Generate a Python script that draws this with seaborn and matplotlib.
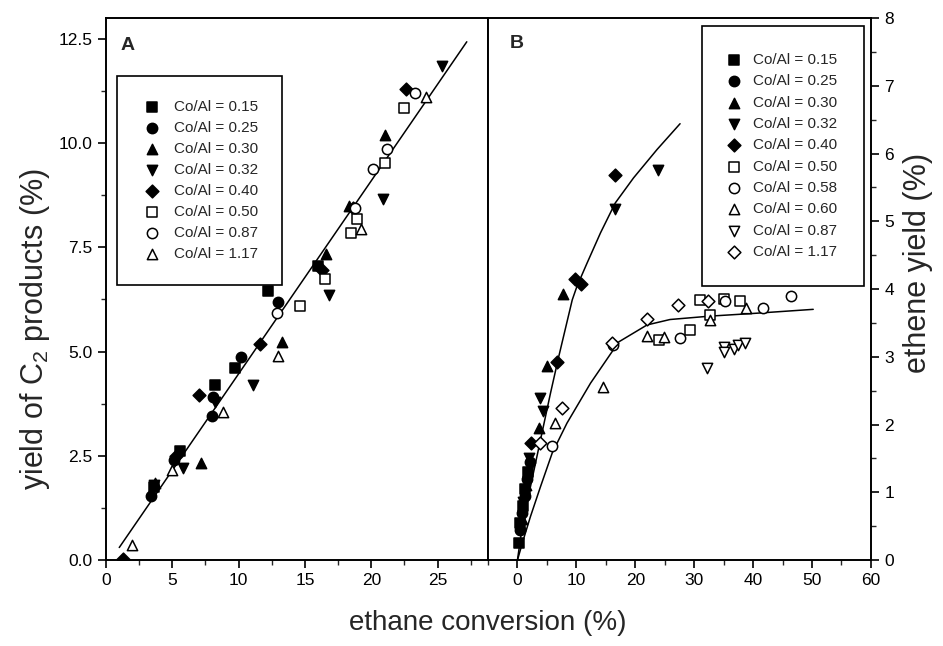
import matplotlib
matplotlib.use('Agg')
from matplotlib import pyplot as plt
from matplotlib.ticker import MultipleLocator, FormatStrFormatter
import pandas as pd
import seaborn as sns

# ---- panel A: yield of C2 products vs ethane conversion ----
a_labels = ['Co/Al = 0.15', 'Co/Al = 0.25', 'Co/Al = 0.30', 'Co/Al = 0.32',
            'Co/Al = 0.40', 'Co/Al = 0.50', 'Co/Al = 0.87', 'Co/Al = 1.17']
a_x = [
    [12.2, 9.7, 8.2, 5.6, 3.6, 16.0],
    [13.0, 10.2, 8.0, 5.1, 3.4, 8.1],
    [21.0, 18.3, 16.6, 13.3, 7.2, 3.7],
    [25.3, 20.9, 16.8, 11.1, 5.8, 3.6, 8.2],
    [22.6, 16.3, 11.6, 7.0, 5.3, 1.3, 18.6],
    [22.5, 21.0, 18.9, 18.5, 16.5, 14.6],
    [23.3, 21.2, 20.1, 18.8, 12.9],
    [24.1, 19.2, 13.0, 8.8, 5.0, 1.95],
]
a_y = [
    [6.45, 4.6, 4.2, 2.62, 1.75, 7.05],
    [6.18, 4.88, 3.46, 2.4, 1.54, 3.9],
    [10.2, 8.48, 7.33, 5.24, 2.33, 1.85],
    [11.86, 8.67, 6.35, 4.2, 2.2, 1.8, 3.8],
    [11.3, 6.95, 5.19, 3.97, 2.5, 0.02, 8.45],
    [10.85, 9.53, 8.17, 7.85, 6.75, 6.1],
    [11.2, 9.85, 9.39, 8.45, 5.93],
    [11.1, 7.93, 4.9, 3.56, 2.16, 0.36],
]
a_marker = ['s', 'o', '^', 'v', 'D', 's', 'o', '^']
a_filled = [True, True, True, True, True, False, False, False]
a_fit_x = [1.0, 27.2]
a_fit_y = [0.30, 12.43]

# ---- panel B: ethene yield vs ethane conversion ----
b_labels = ['Co/Al = 0.15', 'Co/Al = 0.25', 'Co/Al = 0.30', 'Co/Al = 0.32',
            'Co/Al = 0.40', 'Co/Al = 0.50', 'Co/Al = 0.58', 'Co/Al = 0.60',
            'Co/Al = 0.87', 'Co/Al = 1.17']
b_x = [
    [0.2, 0.5, 0.9, 1.3, 1.8],
    [0.4, 0.8, 1.2, 1.6, 2.2],
    [0.7, 1.5, 3.6, 5.0, 7.8],
    [1.0, 2.0, 3.9, 4.3, 16.6, 23.9],
    [2.3, 6.7, 9.8, 10.7, 16.6],
    [24.1, 29.3, 30.9, 32.7, 35.1, 37.7],
    [5.9, 16.2, 27.6, 35.3, 41.7, 46.4],
    [6.4, 14.6, 22.0, 24.9, 32.7, 38.8],
    [32.2, 35.1, 35.1, 36.8, 37.5, 38.6],
    [3.8, 7.6, 16.0, 22.0, 27.3, 32.4],
]
b_y = [
    [0.25, 0.55, 0.8, 1.05, 1.3],
    [0.45, 0.7, 0.95, 1.2, 1.45],
    [0.6, 1.1, 1.95, 2.86, 3.92],
    [0.85, 1.5, 2.39, 2.2, 5.18, 5.76],
    [1.73, 2.93, 4.15, 4.08, 5.68],
    [3.25, 3.4, 3.84, 3.62, 3.86, 3.82],
    [1.68, 3.18, 3.27, 3.83, 3.72, 3.89],
    [2.02, 2.56, 3.3, 3.29, 3.55, 3.72],
    [2.83, 3.15, 3.07, 3.11, 3.18, 3.21],
    [1.73, 2.24, 3.2, 3.56, 3.77, 3.83],
]
b_marker = ['s', 'o', '^', 'v', 'D', 's', 'o', '^', 'v', 'D']
b_filled = [True] * 5 + [False] * 5

# fitted curves
fit1_x = [0.0, 0.8, 2.2, 3.9, 5.6, 7.0, 9.3, 10.1, 11.8, 14.1, 16.6, 19.7, 23.7, 27.6]
fit1_y = [0.0, 0.49, 1.08, 1.77, 2.46, 3.0, 3.84, 4.04, 4.38, 4.83, 5.27, 5.64, 6.06, 6.44]
fit2_x = [0.0, 1.0, 2.2, 3.9, 5.9, 8.4, 12.4, 17.2, 22.0, 25.9, 32.7, 40.1, 50.2]
fit2_y = [0.0, 0.3, 0.64, 1.08, 1.58, 2.02, 2.61, 3.22, 3.47, 3.55, 3.6, 3.64, 3.7]

sns.set_style('ticks')
plt.rcParams['font.family'] = ['Liberation Sans', 'DejaVu Sans']
plt.rcParams['mathtext.fontset'] = 'custom'
plt.rcParams['mathtext.rm'] = 'Liberation Sans'

fig = plt.figure(figsize=(9.43, 6.46), dpi=100)
axA = fig.add_axes([0.1124, 0.1331, 0.4051, 0.839])
axB = fig.add_axes([0.5175, 0.1331, 0.4061, 0.839])


def draw_points(ax, xs, ys, labels, markers, filled):
    for x, y, lab, m, f in zip(xs, ys, labels, markers, filled):
        df = pd.DataFrame({'x': x, 'y': y})
        size = 42 if m == 'D' else 55
        sns.scatterplot(data=df, x='x', y='y', ax=ax, marker=m, s=size,
                        color='black' if f else 'white', edgecolor='black',
                        linewidth=1.1, label=lab, zorder=3)


draw_points(axA, a_x, a_y, a_labels, a_marker, a_filled)
sns.lineplot(x=a_fit_x, y=a_fit_y, ax=axA, color='black', lw=1.1,
             estimator=None, sort=False, zorder=2)

draw_points(axB, b_x, b_y, b_labels, b_marker, b_filled)
sns.lineplot(x=fit1_x, y=fit1_y, ax=axB, color='black', lw=1.1,
             estimator=None, sort=False, zorder=2)
sns.lineplot(x=fit2_x, y=fit2_y, ax=axB, color='black', lw=1.1,
             estimator=None, sort=False, zorder=2)

# axes A
axA.set_xlim(0, 28.8)
axA.set_ylim(0, 13.0)
axA.xaxis.set_major_locator(MultipleLocator(5))
axA.xaxis.set_minor_locator(MultipleLocator(2.5))
axA.yaxis.set_major_locator(MultipleLocator(2.5))
axA.yaxis.set_minor_locator(MultipleLocator(1.25))
axA.yaxis.set_major_formatter(FormatStrFormatter('%.1f'))

# axes B
axB.set_xlim(-5, 60)
axB.set_ylim(0, 8)
axB.xaxis.set_major_locator(MultipleLocator(10))
axB.xaxis.set_minor_locator(MultipleLocator(5))
axB.yaxis.set_major_locator(MultipleLocator(1))
axB.yaxis.set_minor_locator(MultipleLocator(0.5))
axB.yaxis.tick_right()

for ax in (axA, axB):
    ax.set_xlabel('')
    ax.set_ylabel('')
    for sp in ax.spines.values():
        sp.set_visible(True)
        sp.set_linewidth(1.4)
        sp.set_color('black')
    ax.tick_params(which='major', direction='out', length=6, width=1.2,
                   labelsize=12.5, colors='black')
    ax.tick_params(which='minor', direction='out', length=3.5, width=1.0)

axA.tick_params(axis='y', which='both', left=True, right=False)
axB.tick_params(axis='y', which='both', left=False, right=True,
                labelleft=False, labelright=True)

axA.text(0.037, 0.965, 'A', transform=axA.transAxes, fontsize=14,
         fontweight='bold', va='top', ha='left')
axB.text(0.057, 0.969, 'B', transform=axB.transAxes, fontsize=14,
         fontweight='bold', va='top', ha='left')

legA = axA.legend(loc='upper left', bbox_to_anchor=(0.029, 0.893), fontsize=11,
                  frameon=True, fancybox=False, edgecolor='black', framealpha=1,
                  borderaxespad=0, borderpad=1.55, handlelength=1.5,
                  handletextpad=0.7, labelspacing=0.46, markerscale=1.0)
legA.get_frame().set_linewidth(1.2)
legB = axB.legend(loc='upper left', bbox_to_anchor=(0.559, 0.985), fontsize=11,
                  frameon=True, fancybox=False, edgecolor='black', framealpha=1,
                  borderaxespad=0, borderpad=1.75, handlelength=0.65,
                  handletextpad=0.95, labelspacing=0.48, markerscale=1.0)
legB.get_frame().set_linewidth(1.2)

fig.text(0.5175, 0.036, 'ethane conversion (%)', fontsize=20, ha='center', va='center')
fig.text(0.037, 0.49, 'yield of C$_2$ products (%)', fontsize=22, rotation=90,
         ha='center', va='center')
fig.text(0.973, 0.593, 'ethene yield (%)', fontsize=22, rotation=90,
         ha='center', va='center')

fig.savefig('out.png', dpi=100)
